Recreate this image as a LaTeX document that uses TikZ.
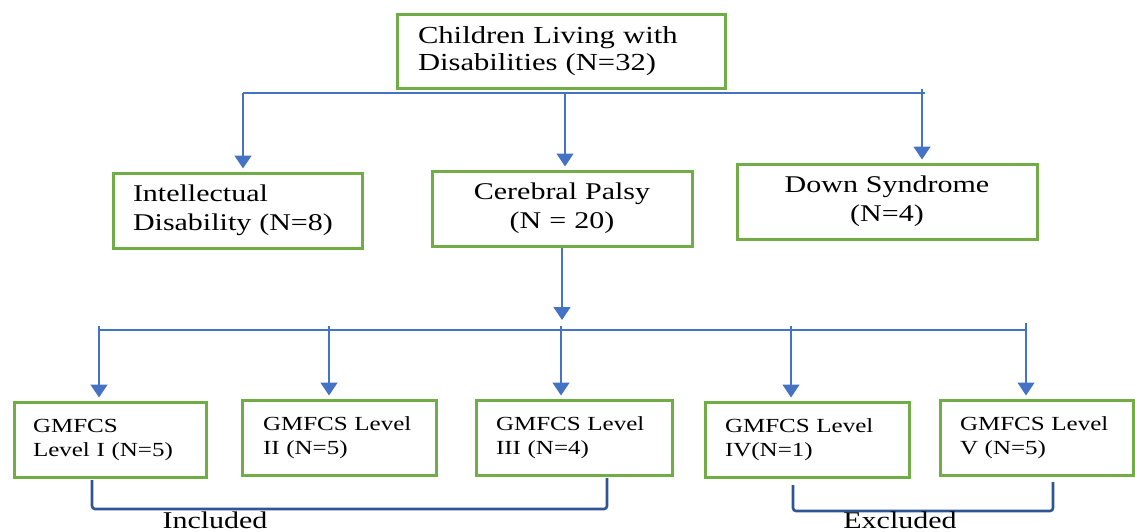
\documentclass[tikz,border=0pt]{standalone}
\usepackage{fontspec}
\setmainfont{Liberation Serif}[FakeStretch=1.25]
\usetikzlibrary{arrows.meta}
\definecolor{boxgreen}{HTML}{70AD47}
\definecolor{arrblue}{HTML}{4472C4}
\definecolor{brkblue}{HTML}{2F5597}
\begin{document}
\begin{tikzpicture}[x=1pt,y=-1pt,
  box/.style={draw=boxgreen,line width=3pt,inner ysep=0pt,minimum height=75pt},
  bigtxt/.style={font=\fontsize{24}{29}\selectfont},
  smalltxt/.style={font=\fontsize{20}{24}\selectfont},
  conn/.style={draw=arrblue,line width=1.4pt},
  arr/.style={conn,-{Triangle[width=17pt,length=13pt]},shorten >=3pt},
  brk/.style={draw=brkblue,line width=2.6pt,rounded corners=3pt},
  lab/.style={font=\fontsize{24}{28}\selectfont,inner sep=0pt}]
\useasboundingbox (0,0) rectangle (1135,531);

% top level
\node[box,minimum height=74pt,text width=286pt,inner xsep=21pt,align=left,font=\fontsize{24.5}{27}\selectfont]
  (top) at (561,51) {Children Living~with\\Disabilities~(N=32)};

% second level
\node[box,bigtxt,text width=209pt,inner xsep=20pt,align=left] (id) at (237.5,210.5)
  {Intellectual\\Disability~(N=8)};
\node[box,bigtxt,text width=220pt,inner xsep=20pt,align=center] (cp) at (562,208.5)
  {Cerebral~Palsy\\(N = 20)};
\node[box,bigtxt,text width=260pt,inner xsep=20pt,align=center] (ds) at (887,201.5)
  {Down~Syndrome\\(N=4)};

% third level
\node[box,smalltxt,text width=154pt,inner xsep=19pt,align=left] (g1) at (110,439.5)
  {GMFCS\\Level~I~(N=5)};
\node[box,smalltxt,text width=152pt,inner xsep=21pt,align=left] (g2) at (339,437.5)
  {GMFCS~Level\\II~(N=5)};
\node[box,smalltxt,text width=156pt,inner xsep=20pt,align=left] (g3) at (574,437.5)
  {GMFCS~Level\\III~(N=4)};
\node[box,smalltxt,text width=164pt,inner xsep=20pt,align=left] (g4) at (807,439.5)
  {GMFCS~Level\\IV(N=1)};
\node[box,smalltxt,text width=153pt,inner xsep=20pt,align=left] (g5) at (1036.5,437.5)
  {GMFCS~Level\\V~(N=5)};

% top branching
\coordinate (t1) at (243,93);
\coordinate (t2) at (565,93);
\coordinate (t3) at (922,93);
\coordinate (tR) at (925,93);
\draw[conn] (t1) -- (tR);
\draw[arr] (t1) -- (t1 |- id.north);
\draw[arr] (t2) -- (t2 |- cp.north);
\draw[arr] ([yshift=4pt]t3) -- (t3 |- ds.north);

% cerebral palsy branching
\coordinate (b0) at (562,320);
\draw[arr,shorten >=0pt] (cp.south) -- (b0);
\coordinate (c1) at (99,330);
\coordinate (c2) at (329,330);
\coordinate (c3) at (561,330);
\coordinate (c4) at (791,330);
\coordinate (c5) at (1026,330);
\draw[conn] (c1) -- (c5);
\draw[arr] ([yshift=4pt]c1) -- (c1 |- g1.north);
\draw[arr] ([yshift=4pt]c2) -- (c2 |- g2.north);
\draw[arr] ([yshift=4pt]c3) -- (c3 |- g3.north);
\draw[arr] ([yshift=4pt]c4) -- (c4 |- g4.north);
\draw[arr] ([yshift=7pt]c5) -- (c5 |- g5.north);

% brackets
\coordinate (i1) at (92,480);
\coordinate (i2) at (607,478);
\draw[brk] (i1) -- ++(0,29) -| (i2);
\coordinate (e1) at (793,485);
\coordinate (e2) at (1053,482);
\draw[brk] (e1) -- ++(0,26) -| (e2);

\node[lab,anchor=base] (inc) at (215,528) {Included};
\node[lab,anchor=base] (exc) at (900,528) {Excluded};
\end{tikzpicture}
\end{document}
